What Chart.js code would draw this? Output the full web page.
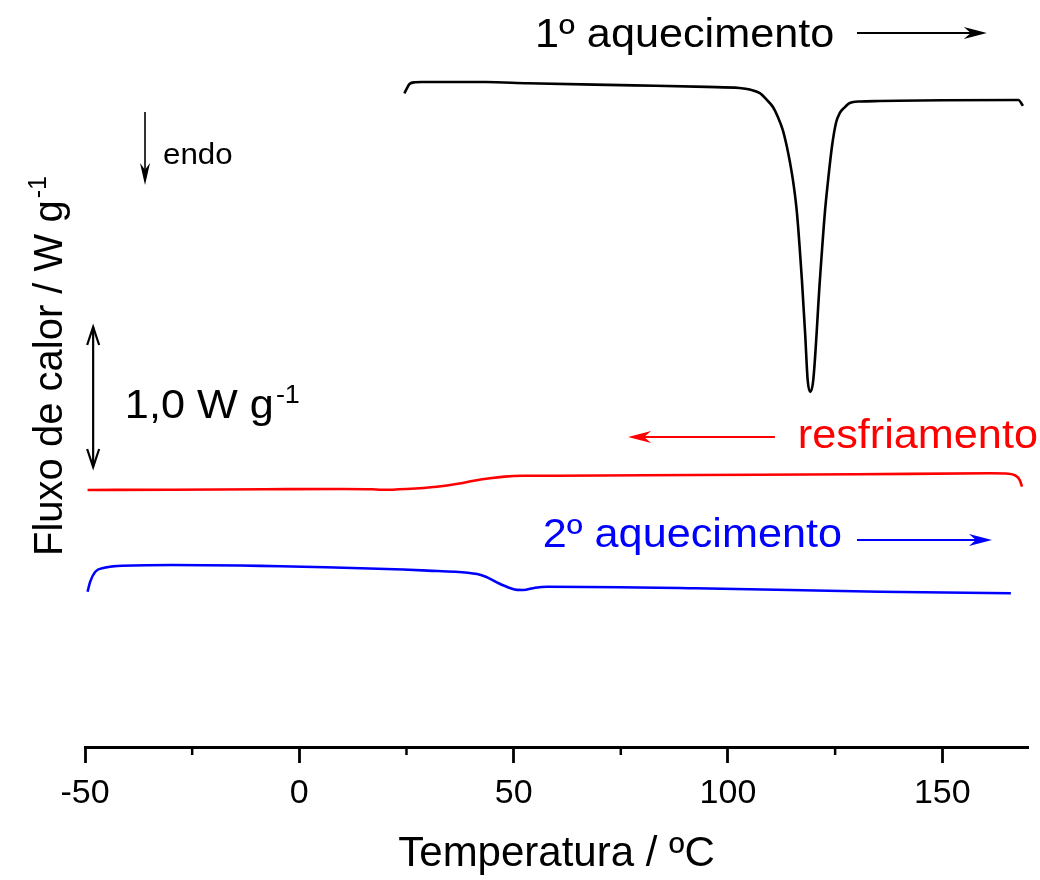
<!DOCTYPE html>
<html>
<head>
<meta charset="utf-8">
<script src="https://cdn.jsdelivr.net/npm/chart.js@4.4.1/dist/chart.umd.min.js"></script>
<style>
  html, body { margin: 0; padding: 0; background: #fff; }
  #wrap { width: 1040px; height: 880px; }
</style>
</head>
<body>
<div id="wrap"><canvas id="dsc" width="1040" height="880"></canvas></div>
<script>
// 1st heating (black), temperature in ºC, heat flow in W/g (offset curves)
var heat1Temp = [24.5, 25.2, 25.7, 27, 28.6, 43.5, 53.3, 78, 95, 102.7, 105.1, 107.45, 109.1, 110.5, 111.65, 112.8, 113.75, 114.5, 115.3, 116.1, 117.25, 118.0, 118.6, 119.2, 119.9, 121.45, 122.6, 123.4, 124.25, 125.2, 126.1, 127.3, 128.4, 130.8, 135.4, 150, 167.8, 168.4, 168.8];
var heat1Flux = [4.669, 4.71, 4.736, 4.748, 4.75, 4.75, 4.741, 4.726, 4.715, 4.707, 4.696, 4.67, 4.621, 4.571, 4.5, 4.407, 4.288, 4.171, 4.02, 3.814, 3.336, 2.957, 2.62, 2.536, 2.62, 3.336, 3.814, 4.06, 4.286, 4.457, 4.529, 4.571, 4.6, 4.611, 4.614, 4.62, 4.621, 4.6, 4.579];

// cooling (red)
var coolTemp = [-49.4, -30, -8.1, 10, 17, 19.2, 25, 32.1, 37, 40.7, 44.5, 47.9, 52, 60, 92.3, 130, 161.3, 165.5, 167, 168.1, 168.6];
var coolFlux = [1.836, 1.838, 1.841, 1.843, 1.841, 1.837, 1.843, 1.859, 1.88, 1.902, 1.92, 1.931, 1.937, 1.938, 1.943, 1.948, 1.955, 1.952, 1.94, 1.905, 1.86];

// 2nd heating (blue)
var heat2Temp = [-49.4, -48.8, -47.6, -45.5, -42.5, -29.7, 6.2, 30, 39.3, 41.5, 43.5, 46.5, 49.3, 50.8, 52.2, 55, 57.9, 92.3, 135.4, 166];
var heat2Flux = [1.109, 1.18, 1.252, 1.28, 1.293, 1.3, 1.284, 1.26, 1.245, 1.235, 1.216, 1.17, 1.134, 1.122, 1.121, 1.138, 1.145, 1.134, 1.109, 1.098];

var xMin = -50, xMax = 170, xStep = 50;
var minorTicks = [-25, 25, 75, 125];

var FONT = '"Liberation Sans", Arial, sans-serif';

function pts(t, f) {
  return t.map(function (v, i) { return { x: v, y: f[i] }; });
}

function arrowHead(ctx, x1, y1, x2, y2, len, half, color) {
  var a = Math.atan2(y2 - y1, x2 - x1);
  ctx.save();
  ctx.translate(x2, y2);
  ctx.rotate(a);
  ctx.fillStyle = color;
  ctx.beginPath();
  ctx.moveTo(0, 0);
  ctx.lineTo(-len, -half);
  ctx.lineTo(-len * 0.7, 0);
  ctx.lineTo(-len, half);
  ctx.closePath();
  ctx.fill();
  ctx.restore();
}

function arrow(ctx, x1, y1, x2, y2, color, width, len, half) {
  var a = Math.atan2(y2 - y1, x2 - x1);
  ctx.save();
  ctx.strokeStyle = color;
  ctx.lineWidth = width;
  ctx.beginPath();
  ctx.moveTo(x1, y1);
  ctx.lineTo(x2 - Math.cos(a) * len * 0.6, y2 - Math.sin(a) * len * 0.6);
  ctx.stroke();
  ctx.restore();
  arrowHead(ctx, x1, y1, x2, y2, len, half, color);
}

function openHead(ctx, x, y, dir, color) {
  ctx.save();
  ctx.strokeStyle = color;
  ctx.lineWidth = 2.2;
  ctx.beginPath();
  ctx.moveTo(x - 6, y + dir * 18);
  ctx.lineTo(x, y);
  ctx.lineTo(x + 6, y + dir * 18);
  ctx.stroke();
  ctx.restore();
}

function label(ctx, text, x, y, color, size, sup) {
  ctx.save();
  ctx.translate(x, y);
  ctx.scale(1.08, 1);
  ctx.fillStyle = color;
  ctx.font = size + 'px ' + FONT;
  ctx.textAlign = 'left';
  ctx.textBaseline = 'alphabetic';
  ctx.fillText(text, 0, 0);
  if (sup) {
    var w = ctx.measureText(text).width;
    ctx.font = Math.round(size * 0.62) + 'px ' + FONT;
    ctx.fillText(sup, w + 2, -size * 0.38);
  }
  ctx.restore();
}

var annotate = {
  id: 'annotate',
  afterDraw: function (chart) {
    var ctx = chart.ctx, x = chart.scales.x, y = chart.scales.y;
    var X = function (v) { return x.getPixelForValue(v); };
    var Y = function (v) { return y.getPixelForValue(v); };
    var bottom = chart.chartArea.bottom;

    // minor ticks
    ctx.save();
    ctx.strokeStyle = '#000';
    ctx.lineWidth = 2.5;
    minorTicks.forEach(function (v) {
      ctx.beginPath();
      ctx.moveTo(X(v), bottom);
      ctx.lineTo(X(v), bottom + 8);
      ctx.stroke();
    });
    ctx.restore();

    // y title
    ctx.save();
    ctx.translate(62, 556);
    ctx.rotate(-Math.PI / 2);
    ctx.fillStyle = '#000';
    ctx.font = '40px ' + FONT;
    ctx.textBaseline = 'alphabetic';
    ctx.fillText('Fluxo de calor / W g', 0, 0);
    var w = ctx.measureText('Fluxo de calor / W g').width;
    ctx.font = '25px ' + FONT;
    ctx.fillText('-1', w + 2, -16);
    ctx.restore();

    // curve labels
    label(ctx, '1º aquecimento', X(55.0), Y(5.0), '#000', 40);
    arrow(ctx, X(130.1), Y(5.1), X(160.4), Y(5.1), '#000', 2, 23, 6);

    label(ctx, 'resfriamento', X(116.3), Y(2.136), '#ff0000', 40);
    arrow(ctx, X(110.95), Y(2.214), X(76.7), Y(2.214), '#ff0000', 2, 23, 6);

    label(ctx, '2º aquecimento', X(56.8), Y(1.429), '#0000ff', 40);
    arrow(ctx, X(130.1), Y(1.479), X(161.6), Y(1.479), '#0000ff', 2, 23, 6);

    // endo marker
    label(ctx, 'endo', X(-31.8), Y(4.164), '#000', 29);
    arrow(ctx, X(-36.0), Y(4.536), X(-36.0), Y(4.014), '#000', 1.6, 22, 5);

    // scale bar 1,0 W/g
    ctx.save();
    ctx.strokeStyle = '#000';
    ctx.lineWidth = 2.2;
    ctx.beginPath();
    ctx.moveTo(X(-48.1), Y(3.0));
    ctx.lineTo(X(-48.1), Y(2.0));
    ctx.stroke();
    ctx.restore();
    openHead(ctx, X(-48.1), Y(3.0), 1, '#000');
    openHead(ctx, X(-48.1), Y(2.0), -1, '#000');
    label(ctx, '1,0 W g', X(-40.7), Y(2.35), '#000', 40, '-1');
  }
};

new Chart(document.getElementById('dsc'), {
  type: 'line',
  data: {
    datasets: [
      { label: '1º aquecimento', data: pts(heat1Temp, heat1Flux), borderColor: '#000000', borderWidth: 2.6, pointRadius: 0, cubicInterpolationMode: 'monotone', fill: false },
      { label: 'resfriamento', data: pts(coolTemp, coolFlux), borderColor: '#ff0000', borderWidth: 2.6, pointRadius: 0, cubicInterpolationMode: 'monotone', fill: false },
      { label: '2º aquecimento', data: pts(heat2Temp, heat2Flux), borderColor: '#0000ff', borderWidth: 2.6, pointRadius: 0, cubicInterpolationMode: 'monotone', fill: false }
    ]
  },
  options: {
    responsive: false,
    animation: false,
    layout: { padding: { left: 85, right: 12, top: 5, bottom: 0 } },
    plugins: { legend: { display: false }, tooltip: { enabled: false } },
    scales: {
      x: {
        type: 'linear',
        min: xMin,
        max: xMax,
        afterFit: function (s) { s.height = 133; },
        ticks: { stepSize: xStep, includeBounds: false, color: '#000', padding: 10, font: { family: FONT, size: 34 } },
        grid: { drawOnChartArea: false, tickLength: 16, tickWidth: 2.8, tickColor: '#000' },
        border: { display: true, color: '#000', width: 3 },
        title: { display: true, text: 'Temperatura / ºC', color: '#000', padding: { top: 0, bottom: 0 }, font: { family: FONT, size: 42 } }
      },
      y: { display: false, min: 0, max: 5.3 }
    }
  },
  plugins: [annotate]
});
</script>
</body>
</html>
